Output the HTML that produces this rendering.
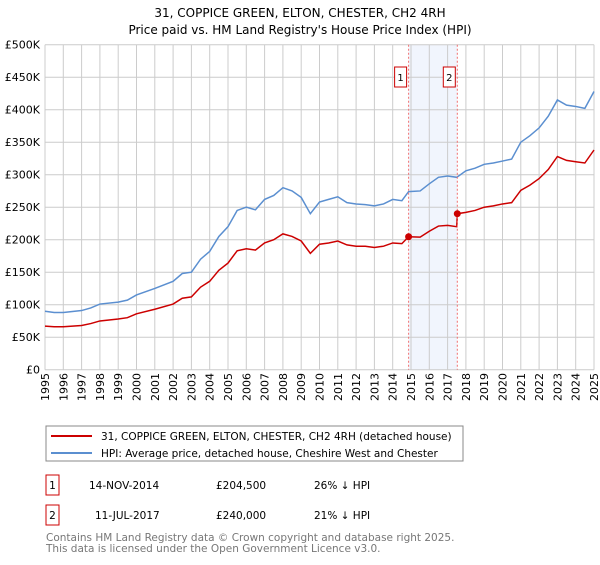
<!DOCTYPE html>
<html><head><meta charset="utf-8"><style>
body{margin:0;background:#fff;font-family:"Liberation Sans","DejaVu Sans",sans-serif;}
svg text{font-family:"DejaVu Sans","Liberation Sans",sans-serif;}
</style></head><body>
<svg id="c" width="600" height="560" xmlns="http://www.w3.org/2000/svg">
<text x="300" y="17" text-anchor="middle" font-size="12" fill="#000">31, COPPICE GREEN, ELTON, CHESTER, CH2 4RH</text>
<text x="300" y="34" text-anchor="middle" font-size="12" fill="#000">Price paid vs. HM Land Registry's House Price Index (HPI)</text>
<g id="grid"></g><g id="series"></g><g id="axes"></g>
<rect x="46" y="426" width="417" height="35" fill="#fff" stroke="#888"/>
<line x1="51" y1="436" x2="92" y2="436" stroke="#cc0000" stroke-width="2"/>
<text x="101" y="440" font-size="10.5">31, COPPICE GREEN, ELTON, CHESTER, CH2 4RH (detached house)</text>
<line x1="51" y1="453" x2="92" y2="453" stroke="#5b8fd0" stroke-width="2"/>
<text x="101" y="457" font-size="10.5">HPI: Average price, detached house, Cheshire West and Chester</text>
<g font-size="10.5">
<rect x="46" y="475" width="13" height="20" fill="#fff" stroke="#cc0000"/>
<text x="52.5" y="489" text-anchor="middle">1</text>
<text x="89" y="489">14-NOV-2014</text><text x="216" y="489">£204,500</text><text x="314" y="489">26% ↓ HPI</text></g>
<g font-size="10.5">
<rect x="46" y="505" width="13" height="20" fill="#fff" stroke="#cc0000"/>
<text x="52.5" y="519" text-anchor="middle">2</text>
<text x="95" y="519">11-JUL-2017</text><text x="216" y="519">£240,000</text><text x="314" y="519">21% ↓ HPI</text></g>
<text x="46" y="541" font-size="10.5" fill="#777">Contains HM Land Registry data © Crown copyright and database right 2025.</text>
<text x="46" y="552" font-size="10.5" fill="#777">This data is licensed under the Open Government Licence v3.0.</text>
</svg>
<script>
const yTicks=[0,50,100,150,200,250,300,350,400,450,500];
const yTickLabels=["£0","£50K","£100K","£150K","£200K","£250K","£300K","£350K","£400K","£450K","£500K"];
const xYears=[1995,1996,1997,1998,1999,2000,2001,2002,2003,2004,2005,2006,2007,2008,2009,2010,2011,2012,2013,2014,2015,2016,2017,2018,2019,2020,2021,2022,2023,2024,2025];
const hpiT=[1995,1995.5,1996,1997,1997.5,1998,1999,1999.5,2000,2001,2002,2002.5,2003,2003.5,2004,2004.5,2005,2005.5,2006,2006.5,2007,2007.5,2008,2008.5,2009,2009.5,2010,2010.5,2011,2011.5,2012,2012.5,2013,2013.5,2014,2014.5,2014.87,2015.5,2016,2016.5,2017,2017.5,2018,2018.5,2019,2019.5,2020,2020.5,2021,2021.5,2022,2022.5,2023,2023.5,2024,2024.5,2025];
const hpiV=[90,88,88,91,95,101,104,107,115,125,136,148,150,170,182,205,220,245,250,246,262,268,280,275,265,240,258,262,266,257,255,254,252,255,262,260,274,275,286,296,298,296,306,310,316,318,321,324,350,360,372,390,415,407,405,402,428];
const priceT=[1995,1995.5,1996,1997,1997.5,1998,1999,1999.5,2000,2001,2002,2002.5,2003,2003.5,2004,2004.5,2005,2005.5,2006,2006.5,2007,2007.5,2008,2008.5,2009,2009.5,2010,2010.5,2011,2011.5,2012,2012.5,2013,2013.5,2014,2014.5,2014.87,2015.5,2016,2016.5,2017,2017.5,2017.53,2018,2018.5,2019,2019.5,2020,2020.5,2021,2021.5,2022,2022.5,2023,2023.5,2024,2024.5,2025];
const priceV=[67,66,66,68,71,75,78,80,86,93,101,110,112,127,136,153,164,183,186,184,195,200,209,205,198,179,193,195,198,192,190,190,188,190,195,194,204.5,204,213,221,222,220,240,242,245,250,252,255,257,276,284,294,308,328,322,320,318,338];
const saleT=[2014.87,2017.53];
const saleV=[204.5,240];
const saleLabels=["1","2"];
const X0=45,X1=594,Y0=369.7,Y1=44.7;
const xs=t=>X0+(t-1995)/30*(X1-X0);
const ys=v=>Y0-(v/500)*(Y0-Y1);
const NS="http://www.w3.org/2000/svg";
function mk(tag,attrs,parent){const e=document.createElementNS(NS,tag);for(const k in attrs)e.setAttribute(k,attrs[k]);parent.appendChild(e);return e;}
const grid=document.getElementById('grid'),ser=document.getElementById('series'),ax=document.getElementById('axes');
const band=mk('rect',{x:xs(saleT[0]),y:Y1,width:xs(saleT[1])-xs(saleT[0]),height:Y0-Y1,fill:'#eef3fc',opacity:0.8},grid);


yTicks.forEach((v,i)=>{
 const l=mk('line',{x1:X0,x2:X1,y1:ys(v),y2:ys(v),stroke:'#ccc'},grid);
 
 
 const t=mk('text',{x:40,y:ys(v)+4,'text-anchor':'end','font-size':11},ax);
 t.textContent=yTickLabels[i];
 
 
});
xYears.forEach(yr=>{
 const l=mk('line',{x1:xs(yr),x2:xs(yr),y1:Y1,y2:Y0,stroke:'#ccc'},grid);
 
 
 const t=mk('text',{x:0,y:0,'font-size':11,'text-anchor':'end',transform:`translate(${xs(yr)+4},373) rotate(-90)`},ax);
 t.textContent=yr;
 
 
});
function line(T,V,color,name){
 const p=mk('polyline',{points:T.map((t,i)=>xs(t)+','+ys(V[i])).join(' '),fill:'none',stroke:color,'stroke-width':1.5},ser);
 
 
}
line(hpiT,hpiV,'#5b8fd0','hpi-line');
line(priceT,priceV,'#cc0000','price-paid-line');
saleT.forEach((t,i)=>{
 const d=mk('line',{x1:xs(t),x2:xs(t),y1:Y1,y2:Y0,stroke:'#f07070','stroke-dasharray':'2,2'},ser);
 
 
 const c=mk('circle',{cx:xs(t),cy:ys(saleV[i]),r:3.5,fill:'#cc0000'},ser);
 
 
 const b=mk('rect',{x:xs(t)-14,y:67,width:12,height:20,fill:'#fff',stroke:'#cc0000'},ser);
 
 
 const tx=mk('text',{x:xs(t)-8,y:81,'text-anchor':'middle','font-size':10},ser);
 tx.textContent=saleLabels[i];
 
 
});
</script>
</body></html>
